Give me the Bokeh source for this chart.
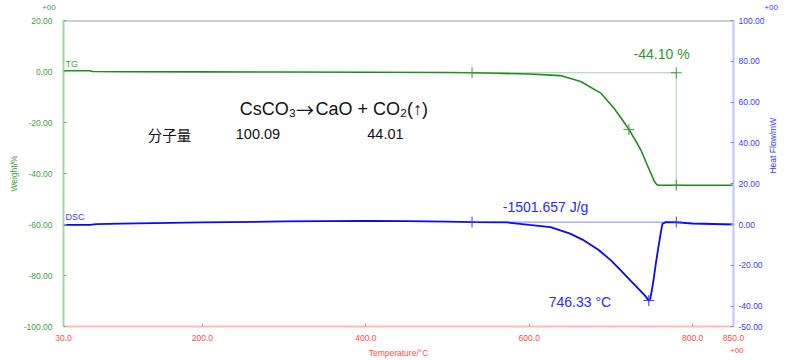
import math
from bokeh.plotting import figure
from bokeh.models import Range1d, LinearAxis, FixedTicker, NumeralTickFormatter, Label, Span
from bokeh.embed import file_html
from bokeh.resources import INLINE

# ---------------- data ----------------
tg_temp = [30, 62, 66, 100, 200, 300, 400, 500, 530, 560, 600, 638, 663, 688, 704, 713,
           722, 730, 737, 743, 749, 753, 756, 758, 765, 800, 850]
tg_weight = [0.3, 0.3, 0.0, -0.1, -0.15, -0.2, -0.3, -0.4, -0.5, -0.7, -1.0, -1.6, -3.9, -8.6,
             -14.5, -18.5, -22.7, -27.0, -31.0, -35.6, -40.0, -43.0, -44.3, -44.6, -44.6, -44.6, -44.6]

dsc_temp = [30, 62, 70, 100, 200, 300, 400, 450, 500, 530, 573, 600, 626, 650, 667, 685, 700,
            712, 724, 735, 742, 746.33, 748, 750, 752, 755, 758, 761, 763, 767, 780, 800, 850]
dsc_flow = [-0.2, -0.2, 0.2, 0.4, 1.0, 1.5, 1.8, 1.7, 1.4, 1.2, 1.0, -0.2, -1.3, -4.5, -7.8, -12.5,
            -17.6, -22.5, -27.5, -32.0, -35.0, -37.3, -36.5, -32.5, -27.5, -19.0, -11.3, -4.0,
            0.3, 1.1, 1.0, 0.5, 0.0]

x_ticks = [30, 200, 400, 600, 800, 850]
left_ticks = [-100, -80, -60, -40, -20, 0, 20]
right_ticks = [-50, -40, -20, 0, 20, 40, 60, 80, 100]

tg_step_temps = [530, 780]
tg_onset = -0.5
tg_final = -44.6
tg_mid = [722, -22.7]
tg_loss_text = "-44.10 %"

dsc_base = 1.2
dsc_peak = [746.33, -37.3]
dsc_enthalpy_text = "-1501.657 J/g"
dsc_peak_text = "746.33 °C"

formula_parts = ["CsCO₃", "→", "CaO + CO₂(↑)"]
mw_title = "分子量"
mw_values = ["100.09", "44.01"]
exponent_text = "+00"

FONT = "Liberation Sans"
GREEN = "#1f8c1f"
GREEN_LT = "#9fd59f"
GREEN_TXT = "#3ea33e"
BLUE = "#0a0aee"
BLUE_LT = "#9a9aff"
BLUE_TXT = "#3b3bff"
RED_TXT = "#ff4a4a"

p = figure(width=800, height=360, x_range=Range1d(30, 850), y_range=Range1d(-100, 20),
           output_backend="svg", toolbar_location=None,
           min_border_left=63, min_border_right=67, min_border_top=20, min_border_bottom=34)
p.outline_line_color = None
p.xgrid.visible = False
p.ygrid.visible = False
p.background_fill_color = "white"

p.extra_y_ranges = {"dsc": Range1d(-50, 100)}

# bottom axis
xa = p.xaxis[0]
xa.ticker = FixedTicker(ticks=x_ticks)
xa.formatter = NumeralTickFormatter(format="0.0")
xa.axis_line_color = "#ffbcbc"
xa.axis_line_width = 2
xa.major_tick_line_color = "#ff8080"
xa.major_tick_in = 3
xa.major_tick_out = 0
xa.minor_tick_line_color = None
xa.major_label_text_color = RED_TXT
xa.major_label_text_font = FONT
xa.major_label_text_font_size = "8.5px"
xa.major_label_standoff = 8
xa.axis_label = "Temperature/°C"
xa.axis_label_text_color = RED_TXT
xa.axis_label_text_font = FONT
xa.axis_label_text_font_size = "8.5px"
xa.axis_label_text_font_style = "normal"
xa.axis_label_standoff = 4

# left axis
ya = p.yaxis[0]
ya.ticker = FixedTicker(ticks=left_ticks)
ya.formatter = NumeralTickFormatter(format="0.00")
ya.axis_line_color = "#a3d6a3"
ya.axis_line_width = 2
ya.major_tick_line_color = "#6ab86a"
ya.major_tick_in = 3
ya.major_tick_out = 0
ya.minor_tick_line_color = None
ya.major_label_text_color = GREEN_TXT
ya.major_label_text_font = FONT
ya.major_label_text_font_size = "8.5px"
ya.major_label_standoff = 11
ya.axis_label = "Weight/%"
ya.axis_label_text_color = GREEN_TXT
ya.axis_label_text_font = FONT
ya.axis_label_text_font_size = "8.5px"
ya.axis_label_text_font_style = "normal"
ya.axis_label_standoff = 2

# right axis
ra = LinearAxis(y_range_name="dsc")
ra.ticker = FixedTicker(ticks=right_ticks)
ra.formatter = NumeralTickFormatter(format="0.00")
ra.axis_line_color = "#c4c4ff"
ra.axis_line_width = 2
ra.major_tick_line_color = "#7a7aff"
ra.major_tick_in = 3
ra.major_tick_out = 0
ra.minor_tick_line_color = None
ra.major_label_text_color = BLUE_TXT
ra.major_label_text_font = FONT
ra.major_label_text_font_size = "8.5px"
ra.major_label_standoff = 5
ra.axis_label = "Heat Flow/mW"
ra.axis_label_orientation = math.pi / 2
ra.axis_label_text_color = BLUE_TXT
ra.axis_label_text_font = FONT
ra.axis_label_text_font_size = "8.5px"
ra.axis_label_text_font_style = "normal"
ra.axis_label_standoff = 6
p.add_layout(ra, "right")

# top border
p.add_layout(Span(location=20, dimension="width", line_color="#a0a0a0", line_width=2))

# TG step construction lines
p.line(tg_step_temps, [tg_onset, tg_onset], line_color=GREEN_LT, line_width=1)
p.line([tg_step_temps[1], tg_step_temps[1]], [tg_onset, tg_final - 1.5], line_color=GREEN_LT, line_width=1)

# DSC baseline
p.line(tg_step_temps, [dsc_base, dsc_base], y_range_name="dsc", line_color=BLUE_LT, line_width=1.2)

# curves
p.line(tg_temp, tg_weight, line_color=GREEN, line_width=1.6)
p.line(dsc_temp, dsc_flow, y_range_name="dsc", line_color=BLUE, line_width=1.8)

# markers
p.scatter([tg_step_temps[0], tg_step_temps[1], tg_step_temps[1], tg_mid[0]],
          [tg_onset, tg_onset, tg_final, tg_mid[1]],
          marker="cross", size=11, line_color="#3c9c3c", line_width=1)
p.scatter([tg_step_temps[0], tg_step_temps[1], dsc_peak[0]],
          [dsc_base, dsc_base, dsc_peak[1]], y_range_name="dsc",
          marker="cross", size=11, line_color="#3a3aff", line_width=1)

def mk(x, y, text, color, size, align="center", baseline="middle", rng="default", font=FONT):
    return Label(x=x, y=y, text=text, text_color=color, text_font_size=size,
                 text_align=align, text_baseline=baseline, text_font=font,
                 y_range_name=rng)

def lab(*args, **kw):
    p.add_layout(mk(*args, **kw))

lab(762, 7.0, tg_loss_text, "#2f962f", "14px")
lab(620, 8.6, dsc_enthalpy_text, "#2a2aff", "14px", rng="dsc")
lab(662, -38.0, dsc_peak_text, "#2a2aff", "14px", rng="dsc")
lab(314.5, -14.9, formula_parts[0], "#111111", "18px", align="right")
lab(325.5, -14.9, formula_parts[1], "#111111", "18px", font="Noto Sans CJK SC")
lab(338.5, -14.9, formula_parts[2], "#111111", "18px", align="left")
lab(133, -24.7, mw_title, "#111111", "14.5px", align="left", font="Noto Sans CJK SC")
lab(268, -24.7, mw_values[0], "#111111", "14.5px")
lab(424, -24.7, mw_values[1], "#111111", "14.5px")
lab(32.5, 1.0, "TG", GREEN_TXT, "9px", align="left", baseline="bottom")
lab(32.5, 1.0, "DSC", BLUE_TXT, "9px", align="left", baseline="bottom", rng="dsc")

# exponent markers outside the frame (side panels are not clipped)
p.add_layout(mk(12.2, 25.2, exponent_text, GREEN_TXT, "8px"), "above")
p.add_layout(mk(896, 25.2, exponent_text, BLUE_TXT, "8px"), "above")
p.add_layout(mk(854, -109.4, exponent_text, RED_TXT, "8px"), "right")

open("out.html", "w").write(file_html(p, INLINE))
